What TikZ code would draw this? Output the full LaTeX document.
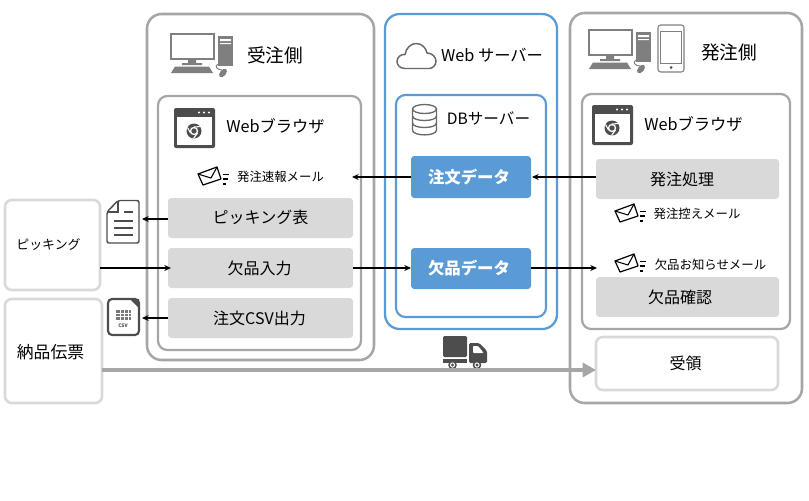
\documentclass[tikz,border=0pt]{standalone}
\usepackage{fontspec}
\setmainfont{Noto Sans CJK JP}
\usetikzlibrary{arrows.meta}
\definecolor{frameg}{HTML}{A6A6A6}
\definecolor{softg}{HTML}{D9D9D9}
\definecolor{blueb}{HTML}{5B9BD5}
\definecolor{icong}{HTML}{7F7F7F}
\definecolor{iconk}{HTML}{4D4D4D}
\newcommand{\pxbox}[7]{%
  \pgfmathsetmacro{\cxx}{(#3+#5)/2}\pgfmathsetmacro{\cyy}{(#4+#6)/2}%
  \pgfmathsetmacro{\wdd}{(#5-#3)*0.75}\pgfmathsetmacro{\htt}{(#6-#4)*0.75}%
  \node[#1,minimum width=\wdd pt,minimum height=\htt pt] (#2) at (\cxx,\cyy) {#7};}
\tikzset{
  x=0.75pt,y=-0.75pt,
  box/.style={rectangle,inner sep=0pt,outer sep=0pt},
  outerg/.style={box,draw=frameg,line width=1.9pt,rounded corners=11pt},
  innerg/.style={box,draw=frameg,line width=1.7pt,rounded corners=7pt},
  outerb/.style={box,draw=blueb,line width=1.7pt,rounded corners=11pt},
  innerb/.style={box,draw=blueb,line width=1.6pt,rounded corners=7pt},
  graybox/.style={box,fill=softg,rounded corners=2.5pt,font=\fontsize{12}{14}\selectfont},
  bluebox/.style={box,fill=blueb,text=white,rounded corners=2.5pt,font=\fontsize{12.3}{14}\selectfont\bfseries},
  softbox/.style={box,draw=softg,line width=1.9pt,rounded corners=5pt,font=\fontsize{12}{14}\selectfont},
  title/.style={inner sep=0pt,font=\fontsize{14}{16}\selectfont},
  sub/.style={inner sep=0pt,font=\fontsize{12.2}{16}\selectfont},
  dbsub/.style={inner sep=0pt,font=\fontsize{11.7}{16}\selectfont},
  picksub/.style={inner sep=0pt,font=\fontsize{9.7}{14}\selectfont},
  slipsub/.style={inner sep=0pt,font=\fontsize{12.6}{16}\selectfont},
  mailtxt/.style={inner sep=0pt,font=\fontsize{9.3}{11}\selectfont},
  conn/.style={draw=black,line width=1.1pt,-{Stealth[length=5pt,width=4.5pt]}},
  thickconn/.style={draw=frameg,line width=3pt,-{Triangle[length=10pt,width=10.5pt]}},
  desktop/.pic={
    \draw[icong,line width=1.5pt] (0.5,0.5) rectangle (44,26);
    \fill[icong] (18,26) rectangle (26,30) (12,30) rectangle (32,32);
    \fill[icong] (5,33.5) -- (39,33.5) -- (43,40) -- (1,40) -- cycle;
    \fill[icong] (48,3) rectangle (63,33);
    \fill[white] (50,6) rectangle (61,8) (50,10) rectangle (61,11);
    \draw[icong,line width=.7pt] (48,31) .. controls (44,33) and (47,37) .. (52,37);
    \fill[icong,rotate around={-40:(53,40)}] (53,40) ellipse [x radius=3,y radius=5];
  },
  browser/.pic={
    \fill[iconk,rounded corners=1.5pt] (0,0) rectangle (41,40);
    \fill[white] (3,9) rectangle (38,37);
    \fill[white] (25,4.5) circle (1.2) (30,4.5) circle (1.2) (35,4.5) circle (1.2);
    \fill[iconk] (20,23) circle (7.5);
    \fill[white] (20,23) circle (4.2);
    \fill[iconk] (20,23) circle (2.7);
    \draw[white,line width=.8pt] (20,19) -- (27,18.5) (16.5,25) -- (13.5,19.5) (23.5,25) -- (19.5,30.5);
  },
  mailicon/.pic={
    \draw[black,line width=.9pt,line join=round] (0,7) -- (19,0) -- (23,12) -- (5,18) -- cycle;
    \draw[black,line width=.8pt,line join=round] (0,7) -- (13,11) -- (19,0);
    \draw[black,line width=.9pt] (25,7.5) -- (31,7.5) (25,12) -- (30,12) (25,17) -- (28,17);
  },
  docicon/.pic={
    \draw[iconk,line width=1.1pt,rounded corners=1.5pt,line join=round] (11,.5) -- (32,.5) -- (32,43) -- (0,43) -- (0,12) -- cycle;
    \draw[iconk,line width=.8pt] (11,.5) -- (11,12) -- (0,12);
    \draw[iconk,line width=.8pt] (17,12) -- (26,12) (7,21) -- (26,21) (7,28) -- (26,28) (7,35) -- (26,35);
  },
  mesh/.pic={
    \fill[iconk!75] (9,12) rectangle (24,22);
    \draw[white,line width=.3pt] (9,15) -- (24,15) (9,18.5) -- (24,18.5) (13,12) -- (13,22) (17,12) -- (17,22) (21,12) -- (21,22);
  },
  truckicon/.pic={
    \fill[iconk,rounded corners=1pt] (0,0) rectangle (24,21);
    \fill[iconk] (0,23) rectangle (24,27);
    \fill[iconk,rounded corners=1pt] (26,7) -- (36,7) -- (44,15) -- (44,27) -- (26,27) -- cycle;
    \fill[white,rounded corners=.7pt] (30,10) -- (35,10) -- (40,16) -- (40,17) -- (30,17) -- cycle;
    \fill[iconk] (9.5,29) circle (4.3) (34,29) circle (4.3);
    \fill[white] (9.5,29) circle (2.6) (34,29) circle (2.6);
    \fill[iconk] (9.5,29) circle (1.6) (34,29) circle (1.6);
  },
  cloudicon/.pic={
    \draw[iconk!85,line width=1.1pt] (8,25.5) .. controls (2,25.5) and (0,21) .. (0,18.5) .. controls (0,14) and (4,11) .. (8,11.5) .. controls (9,5) and (14,.5) .. (19,.5) .. controls (25,.5) and (29,5) .. (30,10) .. controls (35,10) and (39,14) .. (39,18) .. controls (39,23) and (35,25.5) .. (32,25.5) -- cycle;
  },
  dbicon/.pic={
    \draw[iconk!85,line width=1pt] (12.5,5) ellipse [x radius=12,y radius=4.5];
    \draw[iconk!85,line width=1pt] (.5,5) -- (.5,26) .. controls (.5,32.5) and (24.5,32.5) .. (24.5,26) -- (24.5,5);
    \draw[iconk!85,line width=1pt] (.5,12) .. controls (.5,18) and (24.5,18) .. (24.5,12);
    \draw[iconk!85,line width=1pt] (.5,19) .. controls (.5,25) and (24.5,25) .. (24.5,19);
  },
  phoneicon/.pic={
    \draw[icong,line width=.8pt,rounded corners=2pt] (0,0) rectangle (26,47);
    \draw[icong,line width=.7pt] (2.5,6) rectangle (23.5,38);
    \fill[iconk] (13,42.5) circle (1.5);
  },
}
\begin{document}
\begin{tikzpicture}
\useasboundingbox (0,0) rectangle (809,500);
% containers
\pxbox{outerg}{recvside}{147}{14}{374}{360}{}
\pxbox{innerg}{recvweb}{158}{96}{361}{350}{}
\pxbox{outerb}{websrv}{385}{14}{557}{329}{}
\pxbox{innerb}{dbsrv}{396}{95}{546}{317}{}
\pxbox{outerg}{orderside}{570}{13}{802}{403}{}
\pxbox{innerg}{orderweb}{582}{94}{790}{329}{}
% left boxes
\pxbox{softbox}{pick}{5}{200}{100}{290}{}
\pxbox{softbox}{slip}{5}{299}{102}{403}{}
\node[picksub] (picktxt) at (48.5,245) {ピッキング};
\node[slipsub] (sliptxt) at (50.5,352) {納品伝票};
% process boxes
\pxbox{graybox}{picklist}{168}{198}{353}{238}{\raisebox{1.5pt}{ピッキング表}}
\pxbox{graybox}{shortin}{168}{248}{353}{288}{\raisebox{.5pt}{欠品入力}\kern1.5pt}
\pxbox{graybox}{csvout}{168}{298}{353}{338}{\raisebox{.5pt}{注文CSV出力}\kern1.5pt}
\pxbox{bluebox}{orderdata}{411}{156}{531}{198}{注文データ\kern3pt}
\pxbox{bluebox}{shortdata}{411}{248}{531}{289}{欠品データ\kern3pt}
\pxbox{graybox}{orderproc}{596}{159}{779}{199}{\raisebox{1pt}{発注処理}\kern8pt}
\pxbox{graybox}{shortchk}{596}{277}{779}{317}{\raisebox{1pt}{欠品確認}\kern11pt}
\pxbox{softbox}{receive}{596}{337}{778}{390}{受領\kern2pt}
% titles
\node[title] (t1) at (275,55) {受注側};
\node[title] (t2) at (729,52) {発注側};
\node[sub] (t3) at (275.5,126) {Webブラウザ};
\node[sub] (t4) at (693.5,124) {Webブラウザ};
\node[sub] (t5) at (492,55) {Web サーバー};
\node[dbsub] (t6) at (488.5,118) {DBサーバー};
\node[mailtxt] (m1) at (280.5,177) {発注速報メール};
\node[mailtxt] (m2) at (697,214) {発注控えメール};
\node[mailtxt] (m3) at (710.5,265) {欠品お知らせメール};
% icons
\pic at (170,33) {desktop};
\pic at (588,29) {desktop};
\pic at (658,25) {phoneicon};
\pic at (174,108) {browser};
\pic at (592,105) {browser};
\pic at (198,167) {mailicon};
\pic at (615,204) {mailicon};
\pic at (615,254) {mailicon};
\pic at (107,200) {docicon};
\draw[iconk,line width=1.6pt,rounded corners=3pt] (108,299) rectangle (139,335);
\fill[iconk] (139,299) -- (139,308) -- (130,299) -- cycle;
\pic at (107,298) {mesh};
\node[inner sep=0pt,text=iconk,font=\fontsize{3.6}{4}\selectfont\bfseries] (csvlabel) at (123,326) {CSV};
\pic at (397,43) {cloudicon};
\pic at (412,104) {dbicon};
\pic at (443,336) {truckicon};
% free ends
\coordinate (mailend) at (352,177);
\coordinate (docend) at (142,219);
\coordinate (csvend) at (142,318);
\coordinate (inputend) at (171,268);
\coordinate (noticeend) at (597,268);
\coordinate (orderend) at (532,177);
\coordinate (sliptap) at (102,370);
\coordinate (recvtap) at (596,370);
% connectors
\draw[conn] (orderdata.west |- mailend) -- (mailend);
\draw[conn] (orderproc.west |- orderend) -- (orderend);
\draw[conn] (picklist.west |- docend) -- (docend);
\draw[conn] (csvout.west |- csvend) -- (csvend);
\draw[conn] (pick.east |- inputend) -- (inputend);
\draw[conn] (shortin.east |- inputend) -- (shortdata.west |- inputend);
\draw[conn] (shortdata.east |- noticeend) -- (noticeend);
\draw[thickconn] (sliptap) -- (recvtap);
\end{tikzpicture}
\end{document}
